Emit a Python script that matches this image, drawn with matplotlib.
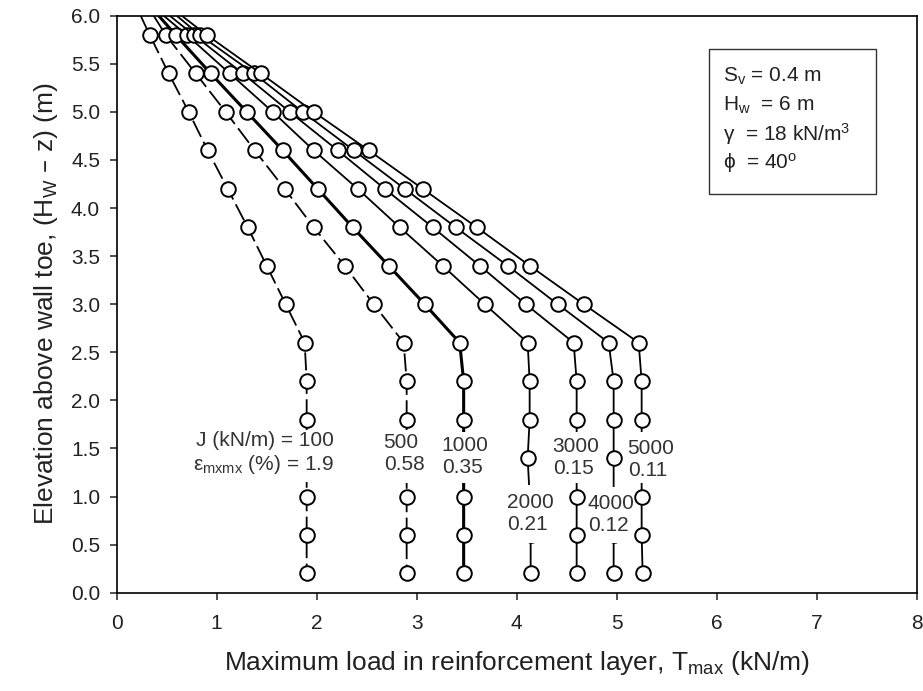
import matplotlib as mpl
mpl.use('Agg')
import matplotlib.pyplot as plt
from matplotlib.patches import Rectangle

plt.rcParams['font.family'] = ['Liberation Sans', 'DejaVu Sans']
plt.rcParams['mathtext.default'] = 'regular'

# elevations (m); first value is the top of the wall (no marker there)
elev = [6.0, 5.8, 5.4, 5.0, 4.6, 4.2, 3.8, 3.4, 3.0, 2.6, 2.2, 1.8, 1.4, 1.0, 0.6, 0.2]

# Tmax (kN/m) for each reinforcement stiffness J (kN/m)
t_100  = [0.24, 0.33, 0.52, 0.72, 0.91, 1.11, 1.31, 1.50, 1.69, 1.88, 1.90, 1.90, 1.90, 1.90, 1.90, 1.90]
t_500  = [0.37, 0.49, 0.79, 1.09, 1.38, 1.68, 1.97, 2.28, 2.57, 2.87, 2.90, 2.90, 2.90, 2.90, 2.90, 2.90]
t_1000 = [0.42, 0.59, 0.94, 1.30, 1.66, 2.01, 2.36, 2.72, 3.08, 3.43, 3.47, 3.47, 3.47, 3.47, 3.47, 3.47]
t_2000 = [0.47, 0.70, 1.13, 1.56, 1.97, 2.41, 2.83, 3.26, 3.68, 4.11, 4.13, 4.13, 4.11, 4.13, 4.14, 4.14]
t_3000 = [0.53, 0.77, 1.26, 1.73, 2.21, 2.68, 3.16, 3.63, 4.09, 4.57, 4.60, 4.60, 4.60, 4.60, 4.60, 4.60]
t_4000 = [0.60, 0.83, 1.37, 1.86, 2.37, 2.88, 3.39, 3.91, 4.41, 4.92, 4.97, 4.97, 4.97, 4.97, 4.97, 4.97]
t_5000 = [0.65, 0.90, 1.44, 1.97, 2.52, 3.06, 3.60, 4.13, 4.67, 5.22, 5.25, 5.25, 5.25, 5.25, 5.25, 5.26]

series = [
  (t_100,  'dash', 1.3),
  (t_500,  'dash', 1.3),
  (t_1000, 'solid', 2.2),
  (t_2000, 'solid', 1.3),
  (t_3000, 'solid', 1.3),
  (t_4000, 'solid', 1.3),
  (t_5000, 'solid', 1.3),
]

# curve labels: (x, y, text, alignment, curve it sits on, masked elevation range)
labels = [
  (2.17, 1.45, 'J (kN/m) = 100\n$\\varepsilon_{mxmx}$ (%) = 1.9', 'right', t_100, 1.15, 1.69),
  (2.67, 1.45, '500\n0.58', 'left', t_500, 1.14, 1.69),
  (3.25, 1.42, '1000\n0.35', 'left', t_1000, 1.14, 1.67),
  (3.90, 0.82, '2000\n0.21', 'left', t_2000, 0.52, 1.12),
  (4.36, 1.41, '3000\n0.15', 'left', t_3000, 1.14, 1.67),
  (4.71, 0.81, '4000\n0.12', 'left', t_4000, 0.52, 1.10),
  (5.11, 1.39, '5000\n0.11', 'left', t_5000, 1.14, 1.67),
]

params = [
  'S$_v$ = 0.4 m',
  'H$_w$  = 6 m',
  '\u03b3  = 18 kN/m$^3$',
  '\u03d5  = 40$^o$',
]

fig = plt.figure(figsize=(9.23, 6.91), dpi=100)
ax = fig.add_axes([0.1264, 0.1423, 0.8667, 0.835])

for vals, style, lw in series:
  line, = ax.plot(vals, elev, color='black', lw=lw, marker='o', markersize=10.5,
                  markerfacecolor='white', markeredgecolor='black', markeredgewidth=1.4,
                  markevery=list(range(1, len(elev))), zorder=3)
  if style == 'dash':
    line.set_dashes((10, 3))

for x, y, txt, ha, vals, y0, y1 in labels:
  # white strip hiding the curve where the label sits
  ax.add_patch(Rectangle((vals[-1] - 0.09, y0), 0.18, y1 - y0, fc='white', ec='none', zorder=4))
  ax.text(x, y, txt, ha=ha, va='center', fontsize=15, color='#333333', multialignment=ha,
          zorder=5)

ax.add_patch(Rectangle((0.741, 0.691), 0.208, 0.251, transform=ax.transAxes,
                       fill=False, ec='#333333', lw=1.0, zorder=6))
for i, p in enumerate(params):
  ax.text(0.758, 0.8955 - i * 0.0505, p, transform=ax.transAxes, ha='left', va='center',
          fontsize=15, color='#222222', zorder=7)

ax.set_xlim(0, 8)
ax.set_ylim(0, 6)
ax.set_xticks(range(0, 9))
ax.set_yticks([0.0, 0.5, 1.0, 1.5, 2.0, 2.5, 3.0, 3.5, 4.0, 4.5, 5.0, 5.5, 6.0])
ax.set_yticklabels(['%.1f' % v for v in ax.get_yticks()])
ax.tick_params(direction='out', length=5, width=1.1, labelsize=15, colors='#222222')
ax.tick_params(axis='x', pad=10)
ax.tick_params(axis='y', pad=7)

for sp in ax.spines.values():
  sp.set_linewidth(1.2)

ax.set_xlabel('Maximum load in reinforcement layer, T$_{max}$ (kN/m)', fontsize=19,
              color='#222222', labelpad=12)
ax.set_ylabel('Elevation above wall toe, (H$_W$ \u2013 z) (m)', fontsize=19,
              color='#222222', labelpad=8)

plt.savefig('out.png', dpi=100)
plt.close()
